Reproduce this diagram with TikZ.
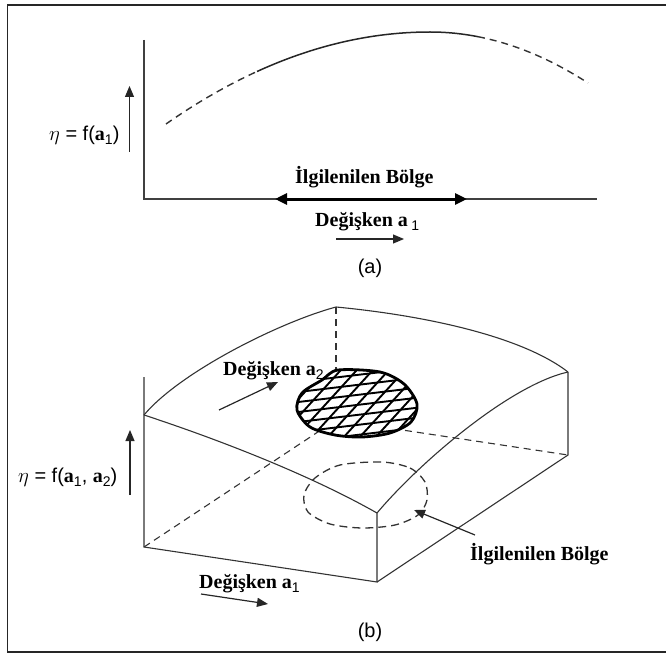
\documentclass[tikz,border=0pt]{standalone}
\usepackage{fontspec}
\setmainfont{Liberation Serif}
\setsansfont{Liberation Sans}
\usetikzlibrary{arrows.meta}

\tikzset{
  boxline/.style={black!80, line width=1.1pt},
  hiddenline/.style={boxline, dash pattern=on 7pt off 5pt},
  lbl/.style={font=\fontsize{20}{24}\selectfont\bfseries, inner sep=0pt},
  captxt/.style={font=\fontsize{20}{24}\selectfont\sffamily, inner sep=0pt},
  arrowline/.style={-{Triangle[length=11pt,width=9pt]}, black!85, line width=1.2pt},
}
\newcommand{\subidx}[1]{\raisebox{-4pt}{\mdseries\sffamily\fontsize{14}{14}\selectfont #1}}

\begin{document}
\begin{tikzpicture}[x=1pt, y=-1pt]
  \useasboundingbox (0,0) rectangle (666,655);
  \draw[black!85, line width=1.6pt] (666,5) -- (7.5,5) -- (7.5,652) -- (666,652);

  % (a)
  \coordinate (yTop) at (144,40);
  \coordinate (O) at (144,199);
  \coordinate (xEnd) at (597,199);
  \draw[black!75, line width=1.4pt] (yTop) -- (O) -- (xEnd);
  \draw[hiddenline, line width=1.4pt] plot[domain=166:257, samples=30] (\x, {32+1.188*((430-\x)/30)^2});
  \draw[black!85, line width=1.5pt] plot[domain=257:430, samples=40] (\x, {32+1.188*((430-\x)/30)^2})
    -- plot[domain=430:478, samples=15] (\x, {32+1.838*((\x-430)/30)^2});
  \draw[hiddenline, line width=1.4pt] plot[domain=478:588, samples=30] (\x, {32+1.838*((\x-430)/30)^2});

  \coordinate (etaA0) at (129.5,152);
  \coordinate (etaA1) at (129.5,86);
  \draw[arrowline] (etaA0) -- (etaA1);
  \node[captxt, anchor=base west] (etaA) at (49,141) {$\eta$ = f(\textbf{\rmfamily a}\subidx{1})};

  \coordinate (roiL) at (275,199);
  \coordinate (roiR) at (467,199);
  \draw[{Triangle[length=12pt,width=11pt]}-{Triangle[length=12pt,width=11pt]}, line width=3pt] (roiL) -- (roiR);
  \node[lbl, anchor=base west] (roiA) at (295,183) {İlgilenilen Bölge};
  \node[lbl, anchor=base west] (varA) at (315,226) {Değişken a\,\subidx{1}};
  \coordinate (varA0) at (336,239);
  \coordinate (varA1) at (404,239);
  \draw[arrowline] (varA0) -- (varA1);
  \node[captxt] (capA) at (370,268) {(a)};

  % (b)
  \coordinate (A) at (144,415);
  \coordinate (B) at (377,513);
  \coordinate (C) at (377,582);
  \coordinate (D) at (144,547);
  \coordinate (E) at (568,372);
  \coordinate (F) at (568,455);
  \coordinate (G) at (336,307);
  \coordinate (H) at (336,420);
  \coordinate (zTop) at (144,377);

  \draw[hiddenline] (D) -- (H) -- (F);
  \draw[hiddenline] (G) -- (H);
  \draw[boxline] (zTop) -- (A) -- (D) -- (C) -- (B);
  \draw[boxline] (C) -- (F) -- (E);
  \draw[boxline] (A) .. controls (180,372) and (280,322) .. (G);
  \draw[boxline] (G) .. controls (420,315) and (520,335) .. (E);
  \draw[boxline] (A) .. controls (220,440) and (310,475) .. (B);
  \draw[boxline] (B) .. controls (420,462) and (510,385) .. (E);

  \def\blob{(338,370) (380,372) (404,384) (417,404) (411,422) (390,433) (362,437)
    (335,435) (310,427) (297,410) (302,393) (322,380)}
  \fill[white] plot[smooth cycle] coordinates {\blob};
  \begin{scope}
    \clip plot[smooth cycle] coordinates {\blob};
    \foreach \k in {-5,...,5} {
      \draw[black, line width=1.9pt] (280,{405+10*\k+9.2}) -- (440,{405+10*\k-10});
      \draw[black, line width=1.9pt] ({398+16*\k},360) -- ({316+16*\k},450);
    }
  \end{scope}
  \draw[black, line width=2.8pt] plot[smooth cycle] coordinates {\blob};

  \draw[black!80, line width=1.3pt, dash pattern=on 8pt off 5pt] plot[smooth cycle] coordinates {
    (382,462) (410,468) (425,482) (427,500) (418,515) (395,525) (362,528)
    (330,524) (308,512) (304,495) (315,478) (340,465)};

  \coordinate (etaB0) at (130,495);
  \coordinate (etaB1) at (130,430);
  \draw[arrowline] (etaB0) -- (etaB1);
  \node[captxt, anchor=base west] (etaB) at (18,482) {$\eta$ = f(\textbf{\rmfamily a}\subidx{1}, \textbf{\rmfamily a}\subidx{2})};

  \node[lbl, anchor=base west] (varB2) at (223,375) {Değişken a\subidx{2}};
  \coordinate (varB20) at (219,410);
  \coordinate (varB21) at (278,382);
  \draw[arrowline] (varB20) -- (varB21);

  \node[lbl, anchor=base west] (roiB) at (470,560) {İlgilenilen Bölge};
  \coordinate (roiB0) at (475,535);
  \coordinate (roiB1) at (414,510);
  \draw[arrowline] (roiB0) -- (roiB1);

  \node[lbl, anchor=base west] (varB1) at (199,588) {Değişken a\subidx{1}};
  \coordinate (varB10) at (201,594);
  \coordinate (varB11) at (268,604);
  \draw[arrowline] (varB10) -- (varB11);
  \node[captxt] (capB) at (370,632) {(b)};
\end{tikzpicture}
\end{document}
